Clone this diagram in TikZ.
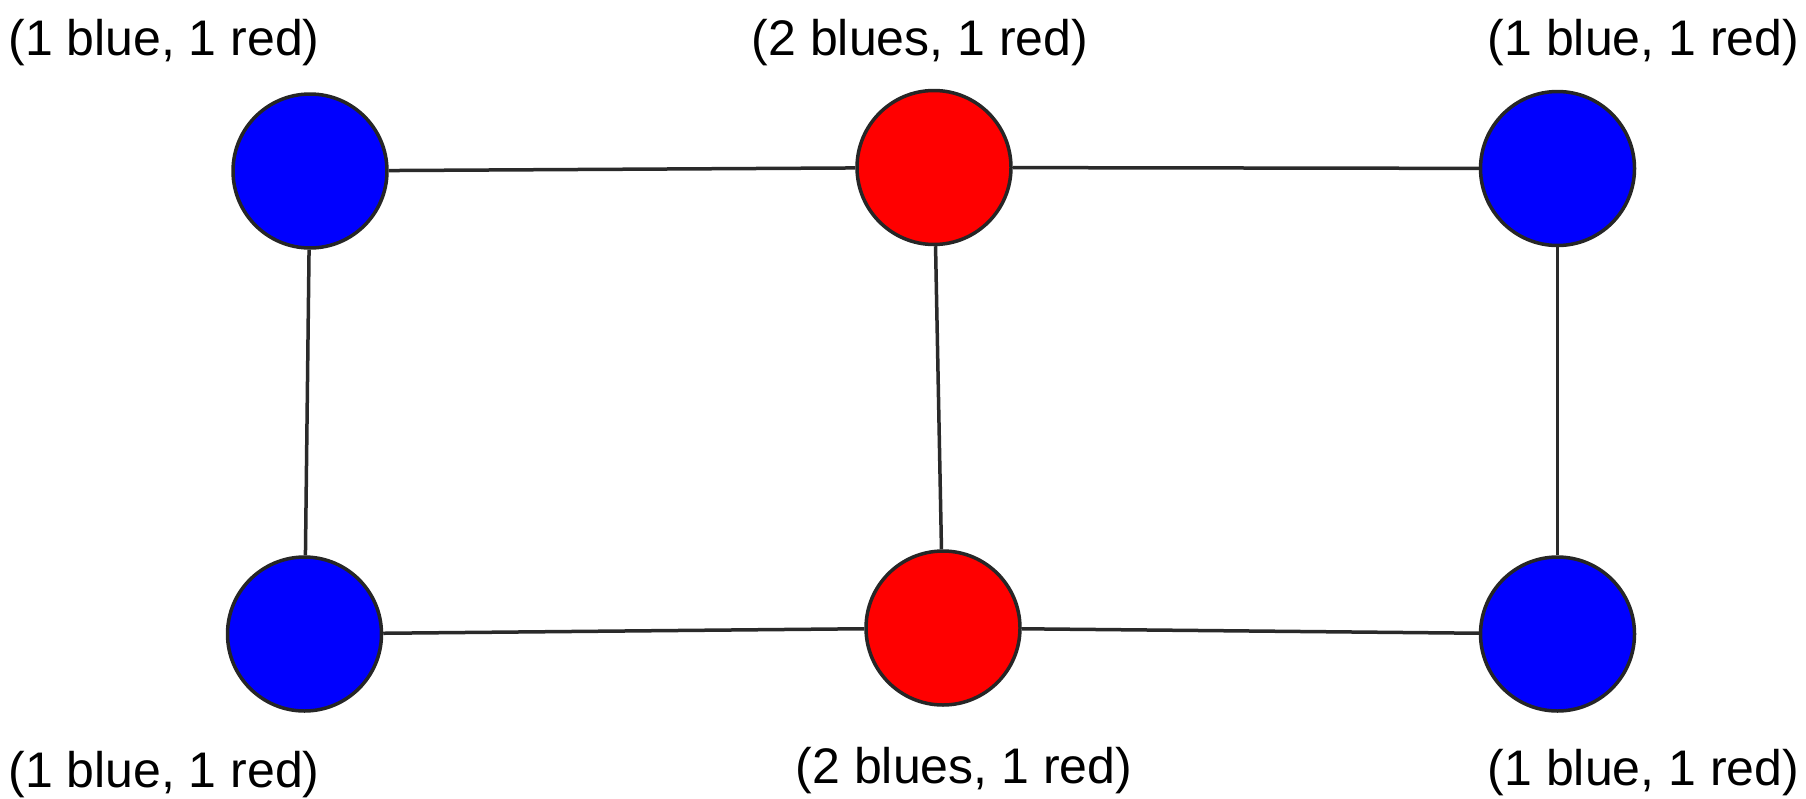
\documentclass[tikz,border=0pt]{standalone}
\usepackage{fontspec}
\setmainfont{Liberation Sans}
\definecolor{edgegray}{HTML}{2A2A2A}
\definecolor{nblue}{HTML}{0000FF}
\definecolor{nred}{HTML}{FF0000}
\begin{document}
\begin{tikzpicture}[x=1pt,y=-1pt,
  vtx/.style={circle,draw=black!85,line width=3.5pt,minimum size=154pt,inner sep=0pt},
  bluev/.style={vtx,fill=nblue},
  redv/.style={vtx,fill=nred},
  edge/.style={draw=edgegray,line width=3.5pt},
  lbl/.style={font=\fontsize{50}{54}\selectfont,anchor=base,inner sep=0pt}]
\useasboundingbox (0,0) rectangle (1806,798);
\node[bluev] (tl) at (310,171) {};
\node[redv]  (tm) at (934,167.5) {};
\node[bluev] (tr) at (1557.5,168.5) {};
\node[bluev] (bl) at (304.5,634) {};
\node[redv]  (bm) at (943,628) {};
\node[bluev] (br) at (1557.5,634) {};
\draw[edge] (tl) -- (tm);
\draw[edge] (tm) -- (tr);
\draw[edge] (bl) -- (bm);
\draw[edge] (bm) -- (br);
\draw[edge] (tl) -- (bl);
\draw[edge] (tm) -- (bm);
\draw[edge] (tr) -- (br);
\node[lbl] (ltl) at (164,55) {(1 blue, 1 red)};
\node[lbl] (ltm) at (920,55) {(2 blues, 1 red)};
\node[lbl] (ltr) at (1643.5,55) {(1 blue, 1 red)};
\node[lbl] (lbl) at (164,787) {(1 blue, 1 red)};
\node[lbl] (lbm) at (964,783) {(2 blues, 1 red)};
\node[lbl] (lbr) at (1643.5,785) {(1 blue, 1 red)};
\end{tikzpicture}
\end{document}
